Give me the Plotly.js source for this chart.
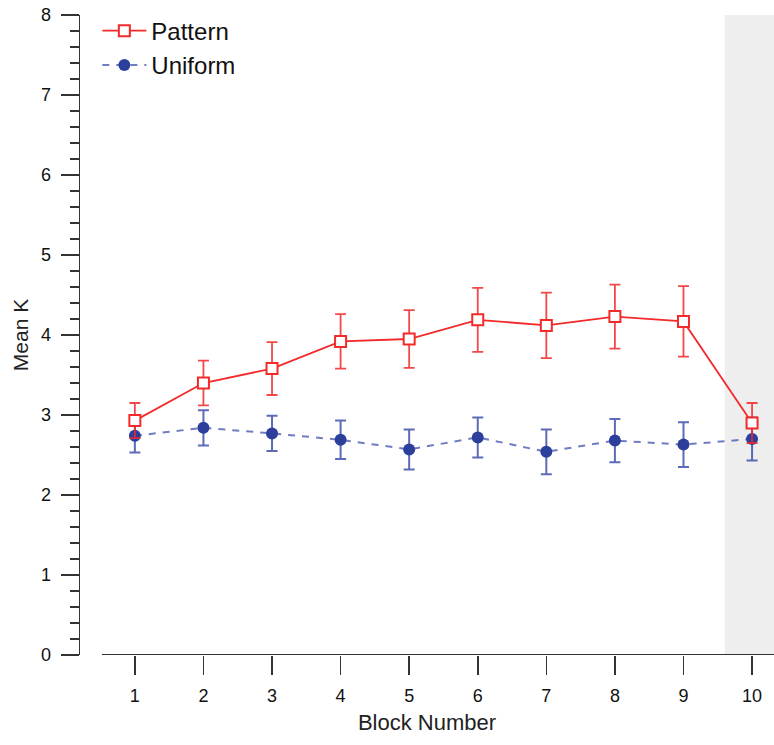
<!DOCTYPE html>
<html>
<head>
<meta charset="utf-8">
<script src="https://cdn.plot.ly/plotly-3.0.1.min.js"></script>
<style>html,body{margin:0;padding:0;background:#fff;}#chart{width:774px;height:745px;}</style>
</head>
<body>
<div id="chart"></div>
<script>
const blocks = [1, 2, 3, 4, 5, 6, 7, 8, 9, 10];
const patternMean = [2.93, 3.40, 3.58, 3.92, 3.95, 4.19, 4.12, 4.23, 4.17, 2.90];
const patternErr  = [0.22, 0.28, 0.33, 0.34, 0.36, 0.40, 0.41, 0.40, 0.44, 0.25];
const uniformMean = [2.74, 2.84, 2.77, 2.69, 2.57, 2.72, 2.54, 2.68, 2.63, 2.70];
const uniformErr  = [0.21, 0.22, 0.22, 0.24, 0.25, 0.25, 0.28, 0.27, 0.28, 0.27];
const seriesNames = ['Pattern', 'Uniform'];
const xTickLabels = ['1','2','3','4','5','6','7','8','9','10'];

const font = 'Liberation Sans, Arial, Helvetica, sans-serif';

const uniform = {
  x: blocks, y: uniformMean, name: seriesNames[1], type: 'scatter', mode: 'lines+markers',
  line: {color: 'rgba(50,70,165,0.7)', width: 2, dash: '7px,7px'},
  marker: {symbol: 'circle', size: 12, color: '#2c3f9c', line: {width: 0}},
  error_y: {type: 'data', array: uniformErr, visible: true, color: 'rgba(50,70,165,0.8)', thickness: 2, width: 5.5}
};
const pattern = {
  x: blocks, y: patternMean, name: seriesNames[0], type: 'scatter', mode: 'lines+markers',
  line: {color: '#f32a2a', width: 1.8},
  marker: {symbol: 'square', size: 11, color: '#ffffff', line: {color: '#f32a2a', width: 2}},
  error_y: {type: 'data', array: patternErr, visible: true, color: 'rgba(240,40,40,0.85)', thickness: 1.8, width: 5.5}
};

const layout = {
  width: 774, height: 745,
  margin: {l: 80, r: 0, t: 15, b: 90},
  paper_bgcolor: '#ffffff', plot_bgcolor: 'rgba(0,0,0,0)',
  font: {family: font, color: '#111'},
  showlegend: true,
  legend: {x: 0.025, y: 1.01, xanchor: 'left', yanchor: 'top', traceorder: 'reversed', itemwidth: 44,
           font: {size: 24, family: font, color: '#111'}, bgcolor: 'rgba(0,0,0,0)', tracegroupgap: 0},
  xaxis: {
    range: [0.2, 10.32], tickvals: blocks, ticktext: xTickLabels,
    showgrid: false, zeroline: false, showline: false,
    ticks: 'outside', ticklen: 19, tickwidth: 1.5, tickcolor: '#333', ticklabelstandoff: 5,
    tickfont: {size: 18, family: font, color: '#111'},
    title: {text: 'Block Number', font: {size: 22, family: font, color: '#222'}, standoff: 10}
  },
  yaxis: {
    range: [0, 8], dtick: 1, tick0: 0,
    showgrid: false, zeroline: false, showline: true, linecolor: '#333', linewidth: 1.5,
    ticks: 'outside', ticklen: 18, tickwidth: 1.5, tickcolor: '#333', ticklabelstandoff: 6,
    minor: {dtick: 0.2, ticks: 'outside', ticklen: 9, tickwidth: 1.5, tickcolor: '#333', showgrid: false},
    tickfont: {size: 18, family: font, color: '#111'},
    title: {text: 'Mean K', font: {size: 21, family: font, color: '#222'}, standoff: 6}
  },
  shapes: [
    {type: 'rect', xref: 'x', yref: 'y', x0: 9.6, x1: 10.32, y0: 0, y1: 8,
     fillcolor: '#eeeeee', line: {width: 0}, layer: 'below'},
    {type: 'line', xref: 'x', yref: 'y', x0: 0.52, x1: 10.32, y0: 0, y1: 0,
     line: {color: '#333', width: 1.8}, layer: 'above'}
  ]
};

Plotly.newPlot('chart', [uniform, pattern], layout, {displayModeBar: false, staticPlot: true});
</script>
</body>
</html>
